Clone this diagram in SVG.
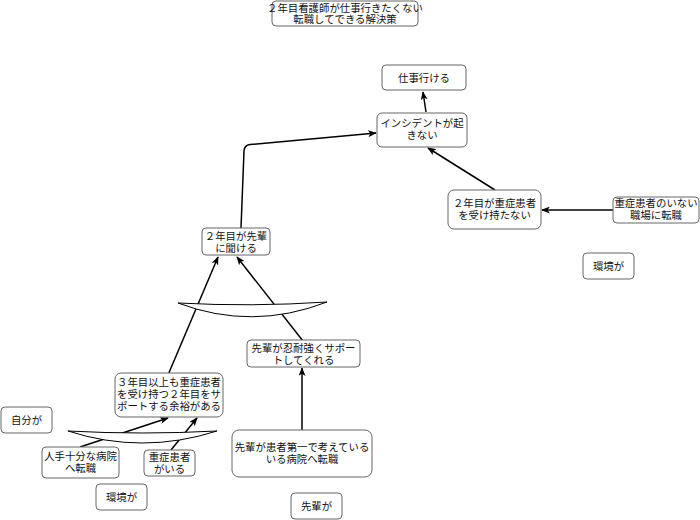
<svg xmlns="http://www.w3.org/2000/svg" width="700" height="520" viewBox="0 0 700 520">
<defs>
<marker id="arr" viewBox="0 0 10 8" refX="9" refY="4" markerWidth="9" markerHeight="7" orient="auto" markerUnits="userSpaceOnUse">
<path d="M0,0 L10,4 L0,8 L2.5,4 Z" fill="#000"/>
</marker>
<style>
.box{fill:#fff;stroke:#666;stroke-width:1}
.t{font-family:"Liberation Sans","Noto Sans CJK JP",sans-serif;font-size:10.4px;fill:#111;text-anchor:middle}
.c{fill:none;stroke:#000;stroke-width:1.5;marker-end:url(#arr)}
.lens{fill:#fff;stroke:#000;stroke-width:1}
</style>
</defs>
<rect width="700" height="520" fill="#fff"/>

<g id="connectors">
<path class="c" d="M426,112 L423,92"/>
<path class="c" d="M495,190 L428,148"/>
<path class="c" d="M613,210 L542,210"/>
<path class="c" d="M241,228 L244,151 Q244.5,145 250,144.5 L376,133"/>
<path class="c" d="M168,375 L218,257"/>
<path class="c" d="M303,341 L237,257"/>
<path class="c" d="M302,430 L302,368"/>
<path class="c" d="M80,447 L168,418"/>
<path class="c" d="M171,450 L197,418"/>
</g>

<g id="junctions">
<path class="lens" d="M178,303 Q252,307 327,302 Q252,331 178,303 Z"/>
<path class="lens" d="M68,431 Q142,435 217,431 Q142,455 68,431 Z"/>
</g>

<g id="title">
<rect class="box" x="272" y="1" width="146" height="25" rx="4"/>
<text class="t" x="345" y="12">２年目看護師が仕事行きたくない</text>
<text class="t" x="345" y="23">転職してできる解決策</text>
</g>

<g id="n_shigoto">
<rect class="box" x="382" y="65" width="84" height="25" rx="4"/>
<text class="t" x="424" y="81.5">仕事行ける</text>
</g>

<g id="n_incident">
<rect class="box" x="377" y="113" width="90" height="34" rx="5"/>
<text class="t" x="422" y="127">インシデントが起</text>
<text class="t" x="422" y="139">きない</text>
</g>

<g id="n_juusho2">
<rect class="box" x="448" y="190" width="93" height="39" rx="6"/>
<text class="t" x="494.5" y="207">２年目が重症患者</text>
<text class="t" x="494.5" y="219">を受け持たない</text>
</g>

<g id="n_tenshoku1">
<rect class="box" x="613" y="197" width="86" height="26" rx="4"/>
<text class="t" x="656" y="207">重症患者のいない</text>
<text class="t" x="656" y="219">職場に転職</text>
</g>

<g id="n_kankyo1">
<rect class="box" x="583" y="253" width="51" height="26" rx="4"/>
<text class="t" x="608.5" y="270">環境が</text>
</g>

<g id="n_kikeru">
<rect class="box" x="202" y="228" width="68" height="27" rx="4"/>
<text class="t" x="236" y="239.5">２年目が先輩</text>
<text class="t" x="236" y="251.5">に聞ける</text>
</g>

<g id="n_nintai">
<rect class="box" x="247" y="340" width="113" height="27" rx="4"/>
<text class="t" x="303.5" y="351.5">先輩が忍耐強くサポー</text>
<text class="t" x="303.5" y="363.5">トしてくれる</text>
</g>

<g id="n_yoyuu">
<rect class="box" x="115" y="373" width="108" height="44" rx="6"/>
<text class="t" x="169" y="386">３年目以上も重症患者</text>
<text class="t" x="169" y="398">を受け持つ２年目をサ</text>
<text class="t" x="169" y="410">ポートする余裕がある</text>
</g>

<g id="n_jibun">
<rect class="box" x="1" y="407" width="51" height="26" rx="4"/>
<text class="t" x="26.5" y="424">自分が</text>
</g>

<g id="n_hitode">
<rect class="box" x="42" y="447" width="77" height="31" rx="4"/>
<text class="t" x="80.5" y="460">人手十分な病院</text>
<text class="t" x="80.5" y="472">へ転職</text>
</g>

<g id="n_juusho">
<rect class="box" x="144" y="450" width="51" height="26" rx="4"/>
<text class="t" x="169.5" y="461">重症患者</text>
<text class="t" x="169.5" y="473">がいる</text>
</g>

<g id="n_kankyo2">
<rect class="box" x="96" y="484" width="51" height="26" rx="4"/>
<text class="t" x="121.5" y="501">環境が</text>
</g>

<g id="n_kanjadaiichi">
<rect class="box" x="232" y="430" width="140" height="47" rx="7"/>
<text class="t" x="302" y="451">先輩が患者第一で考えている</text>
<text class="t" x="302" y="463">いる病院へ転職</text>
</g>

<g id="n_senpai">
<rect class="box" x="291" y="493" width="51" height="26" rx="4"/>
<text class="t" x="316.5" y="510">先輩が</text>
</g>
</svg>
